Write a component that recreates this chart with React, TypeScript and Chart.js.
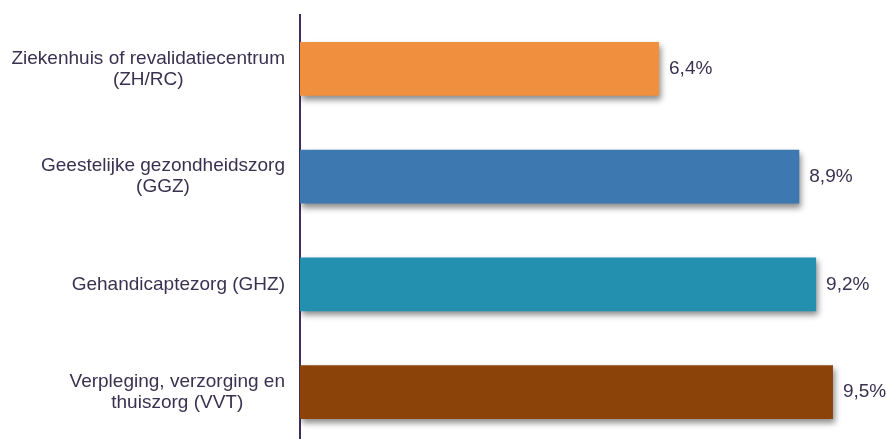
import React, { useEffect, useRef } from "react";
import { Chart, registerables } from "chart.js";

Chart.register(...registerables);

const categories: string[][] = [
  ["Ziekenhuis of revalidatiecentrum", "(ZH/RC)"],
  ["Geestelijke gezondheidszorg", "(GGZ)"],
  ["Gehandicaptezorg (GHZ)"],
  ["Verpleging, verzorging en", "thuiszorg (VVT)"],
];
const values: number[] = [6.4, 8.9, 9.2, 9.5];
const valueLabels: string[] = ["6,4%", "8,9%", "9,2%", "9,5%"];
const barColors: string[] = ["#F0903E", "#3D78B1", "#2290AE", "#8B4309"];

const TEXT_COLOR = "#3a3150";
const FONT = "19px 'Liberation Sans', Arial, sans-serif";

const shadowPlugin = {
  id: "barShadow",
  beforeDatasetDraw(chart: any) {
    const ctx = chart.ctx;
    ctx.save();
    ctx.shadowColor = "rgba(0,0,0,0.45)";
    ctx.shadowBlur = 6;
    ctx.shadowOffsetX = 2;
    ctx.shadowOffsetY = 4;
  },
  afterDatasetDraw(chart: any) {
    chart.ctx.restore();
  },
};

const labelsPlugin = {
  id: "customLabels",
  afterDraw(chart: any) {
    const ctx = chart.ctx;
    const yScale = chart.scales.y;
    const area = chart.chartArea;
    const meta = chart.getDatasetMeta(0);
    ctx.save();
    ctx.font = FONT;
    ctx.fillStyle = TEXT_COLOR;
    ctx.textBaseline = "middle";
    const lineH = 21;
    categories.forEach((lines, i) => {
      const cy = yScale.getPixelForValue(i);
      const widths = lines.map((l) => ctx.measureText(l).width);
      const blockW = Math.max(...widths);
      const right = area.left - 15;
      const cx = right - blockW / 2;
      ctx.textAlign = "center";
      const startY = cy - ((lines.length - 1) * lineH) / 2;
      lines.forEach((l, j) => {
        ctx.fillText(l, cx, startY + j * lineH);
      });
      const bar = meta.data[i];
      ctx.textAlign = "left";
      ctx.fillText(valueLabels[i], bar.x + 10, bar.y);
    });
    ctx.restore();
  },
};

export default function App() {
  const canvasRef = useRef<HTMLCanvasElement | null>(null);

  useEffect(() => {
    document.body.style.margin = "0";
    document.body.style.overflow = "hidden";
    const canvas = canvasRef.current;
    if (!canvas) return;
    const chart = new Chart(canvas, {
      type: "bar",
      data: {
        labels: categories.map((c) => c.join(" ")),
        datasets: [
          {
            data: values,
            backgroundColor: barColors,
            borderWidth: 0,
            barPercentage: 0.5,
            categoryPercentage: 1,
          },
        ],
      },
      options: {
        indexAxis: "y",
        animation: false,
        responsive: false,
        maintainAspectRatio: false,
        layout: { padding: { top: 15, left: 300, right: 25, bottom: 0 } },
        plugins: {
          legend: { display: false },
          tooltip: { enabled: false },
        },
        scales: {
          x: {
            min: 0,
            max: 10,
            display: false,
          },
          y: {
            offset: true,
            grid: { display: false, drawTicks: false },
            ticks: { display: false },
            border: { display: true, color: "#3b2f5c", width: 2 },
          },
        },
      },
      plugins: [shadowPlugin, labelsPlugin],
    });
    return () => chart.destroy();
  }, []);

  return (
    <div style={{ position: "fixed", left: 0, top: 0, width: 886, height: 446 }}>
      <canvas ref={canvasRef} width={886} height={446} style={{ width: 886, height: 446 }} />
    </div>
  );
}
